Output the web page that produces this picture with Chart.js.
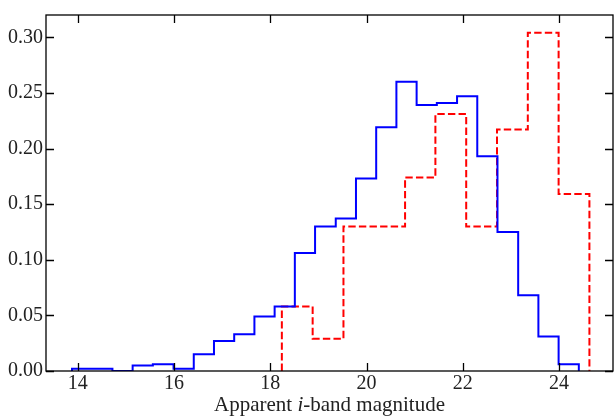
<!DOCTYPE html>
<html>
<head>
<meta charset="utf-8">
<script src="https://cdn.jsdelivr.net/npm/chart.js@4/dist/chart.umd.min.js"></script>
<style>
  html, body { margin: 0; padding: 0; background: #fff; }
  #wrap { width: 614px; height: 418px; }
</style>
</head>
<body>
<div id="wrap"><canvas id="magHist" width="614" height="418"></canvas></div>
<script>
// blue (solid) histogram: bin edges and normalised counts
const blueEdges = [13.88, 14.30, 14.72, 15.14, 15.56, 15.99, 16.41, 16.83, 17.25, 17.67,
    18.09, 18.51, 18.93, 19.36, 19.78, 20.20, 20.62, 21.04, 21.46, 21.88,
    22.30, 22.72, 23.15, 23.57, 23.99, 24.41];
const blueValues = [0.002, 0.002, 0.000, 0.005, 0.006, 0.002, 0.015, 0.027, 0.033, 0.049,
    0.058, 0.106, 0.130, 0.137, 0.173, 0.219, 0.260, 0.239, 0.241, 0.247,
    0.193, 0.125, 0.068, 0.031, 0.006];

// red (dashed) histogram
const redEdges = [18.24, 18.88, 19.52, 20.16, 20.80, 21.43, 22.07, 22.71, 23.35, 23.99, 24.63];
const redValues = [0.058, 0.029, 0.130, 0.130, 0.174, 0.231, 0.130, 0.217, 0.304, 0.159];

const xTitle = ['Apparent ', 'i', '-band magnitude'];

const FONT = '"Liberation Serif", "Times New Roman", serif';
const TEXT = '#222';

function stepPoints(edges, values) {
    const pts = [{ x: edges[0], y: 0 }];
    values.forEach((v, i) => pts.push({ x: edges[i], y: v }));
    pts.push({ x: edges[edges.length - 1], y: 0 });
    return pts;
}

// frame + inward ticks on all four sides, and the x title with italic i
const framePlugin = {
    id: 'frame',
    afterDraw(chart) {
        const { ctx, chartArea: a, scales } = chart;
        const tl = 8;
        ctx.save();
        ctx.strokeStyle = '#000';
        ctx.lineWidth = 1.3;
        ctx.beginPath();
        scales.x.ticks.forEach(t => {
            const px = Math.round(scales.x.getPixelForValue(t.value)) + 0.5;
            ctx.moveTo(px, a.bottom); ctx.lineTo(px, a.bottom - tl);
            ctx.moveTo(px, a.top); ctx.lineTo(px, a.top + tl);
        });
        scales.y.ticks.forEach(t => {
            const py = Math.round(scales.y.getPixelForValue(t.value)) + 0.5;
            ctx.moveTo(a.left, py); ctx.lineTo(a.left + tl, py);
            ctx.moveTo(a.right, py); ctx.lineTo(a.right - tl, py);
        });
        ctx.stroke();
        ctx.strokeRect(a.left, a.top, a.right - a.left, a.bottom - a.top);

        const fonts = ['21px ' + FONT, 'italic 21px ' + FONT, '21px ' + FONT];
        let total = 0;
        const widths = xTitle.map((s, i) => {
            ctx.font = fonts[i];
            const w = ctx.measureText(s).width;
            total += w;
            return w;
        });
        let x = (a.left + a.right) / 2 - total / 2;
        ctx.fillStyle = TEXT;
        ctx.textBaseline = 'alphabetic';
        ctx.textAlign = 'left';
        xTitle.forEach((s, i) => {
            ctx.font = fonts[i];
            ctx.fillText(s, x, 410.5);
            x += widths[i];
        });
        ctx.restore();
    }
};

const ctx = document.getElementById('magHist').getContext('2d');

new Chart(ctx, {
    type: 'line',
    data: {
        datasets: [{
            data: stepPoints(blueEdges, blueValues),
            borderColor: '#0000ff',
            borderWidth: 2,
            stepped: 'before',
            pointRadius: 0,
            fill: false
        }, {
            data: stepPoints(redEdges, redValues),
            borderColor: '#ff0000',
            borderWidth: 2,
            borderDash: [7.4, 3.2],
            stepped: 'before',
            pointRadius: 0,
            fill: false
        }]
    },
    options: {
        responsive: false,
        animation: false,
        events: [],
        layout: { padding: { top: 6, right: 1, left: 0, bottom: 0 } },
        plugins: {
            legend: { display: false },
            tooltip: { enabled: false }
        },
        scales: {
            x: {
                type: 'linear',
                min: 13.34,
                max: 25.12,
                grid: { display: false, drawTicks: false },
                border: { display: false },
                ticks: {
                    stepSize: 2,
                    includeBounds: false,
                    padding: 1,
                    maxRotation: 0,
                    color: TEXT,
                    font: { family: FONT, size: 20 }
                },
                afterFit: s => { s.height = 47; }
            },
            y: {
                min: 0,
                max: 0.32,
                grid: { display: false, drawTicks: false },
                border: { display: false },
                ticks: {
                    stepSize: 0.05,
                    includeBounds: false,
                    padding: 3,
                    color: TEXT,
                    font: { family: FONT, size: 20 },
                    callback: v => v.toFixed(2)
                },
                afterFit: s => { s.width = 46; }
            }
        }
    },
    plugins: [framePlugin]
});
</script>
</body>
</html>
